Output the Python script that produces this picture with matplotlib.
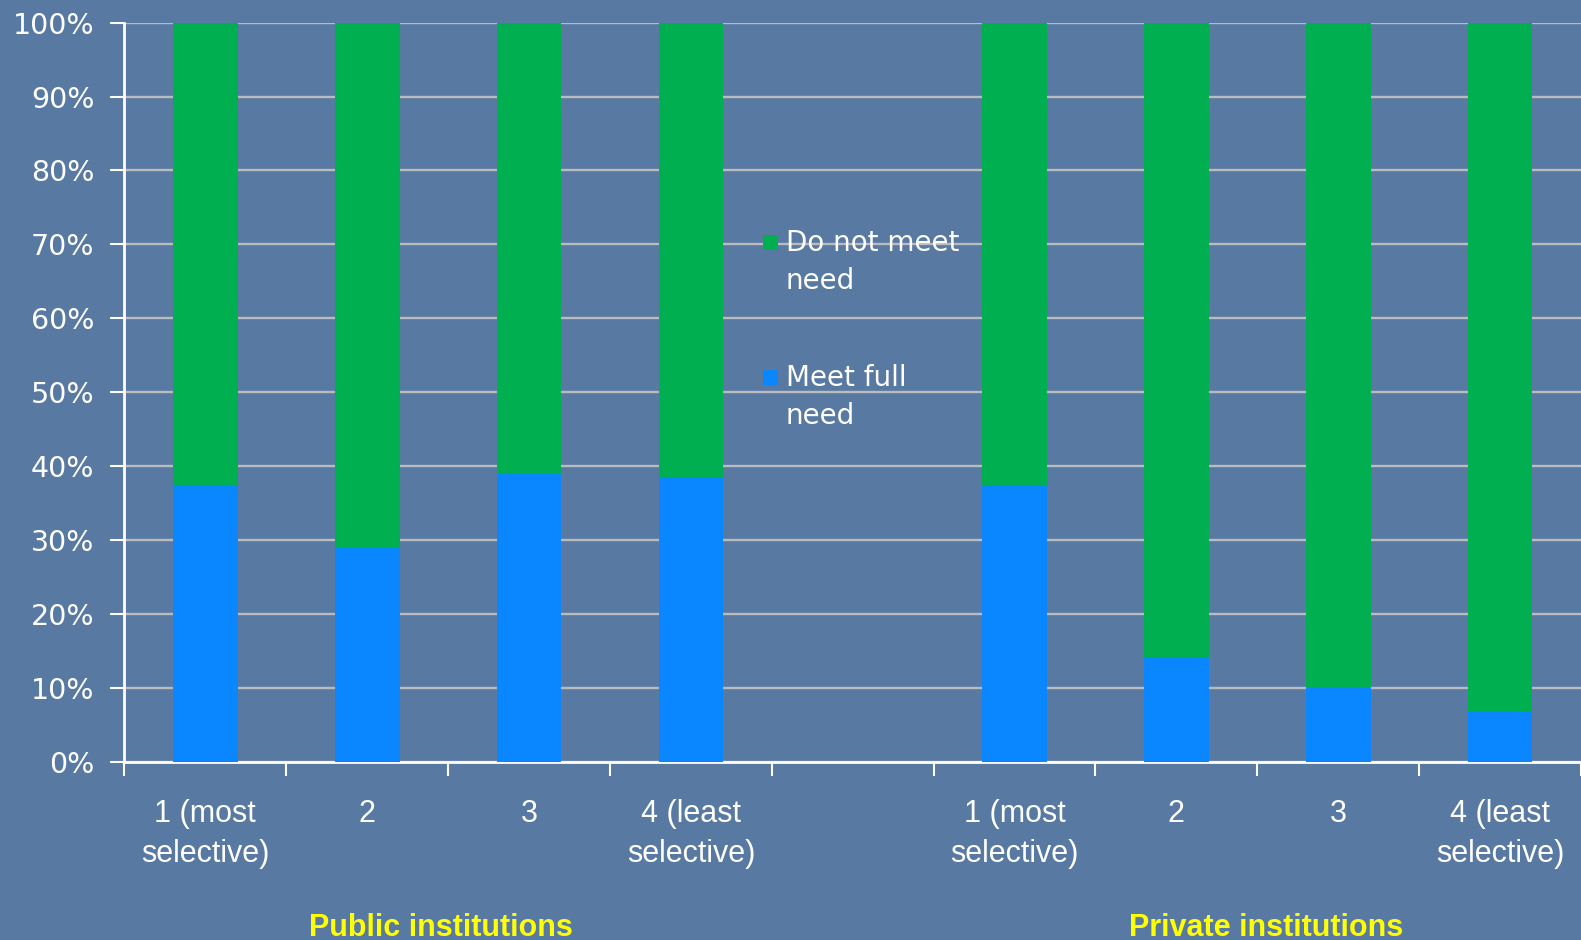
import numpy as np
import matplotlib.pyplot as plt
from matplotlib.patches import Rectangle
from matplotlib.ticker import FuncFormatter

BG = '#5879A2'
GREEN = '#00AF50'
BLUE = '#0A86FF'
GRID = '#B9BBBE'
YELLOW = '#FFFF00'

# nine slots on the category axis: public tiers, a spacer, private tiers
categories = ['1 (most\nselective)', '2', '3', '4 (least\nselective)', '',
              '1 (most\nselective)', '2', '3', '4 (least\nselective)']
meet_full = [37.4, 28.9, 38.9, 38.5, None, 37.3, 14.2, 10.0, 6.8]
groups = ['Public institutions', 'Private institutions']
series_names = ['Do not meet\nneed', 'Meet full\nneed']

LABEL_FONT = 'Liberation Sans'

fig = plt.figure(figsize=(15.81, 9.40), dpi=100)
fig.patch.set_facecolor(BG)
ax = fig.add_axes([0.0787, 0.1897, 0.9213, 0.7862])
ax.set_facecolor(BG)

slots = [i for i, v in enumerate(meet_full) if v is not None]
blue_vals = np.array([meet_full[i] for i in slots])
green_vals = 100 - blue_vals
xpos = np.array(slots) + 0.5

ax.bar(xpos, blue_vals, width=0.4, color=BLUE, zorder=3)
ax.bar(xpos, green_vals, width=0.4, bottom=blue_vals, color=GREEN, zorder=3)

ax.set_xlim(0, 9)
ax.set_ylim(0, 100)
ax.set_yticks(np.arange(0, 101, 10))
ax.yaxis.set_major_formatter(FuncFormatter(lambda v, _: f'{v:.0f}%'))
ax.yaxis.grid(True, color=GRID, linewidth=1.7, zorder=1)

ax.set_xticks(np.arange(0, 10))
ax.set_xticklabels([])
ax.set_xticks(np.arange(9) + 0.5, minor=True)
ax.set_xticklabels(categories, minor=True)
ax.tick_params(axis='x', which='major', direction='out', length=10, width=1.5,
               color='white')
ax.tick_params(axis='x', which='minor', length=0, pad=27, labelcolor='white',
               labelsize=22)
for lbl in ax.get_xticklabels(minor=True):
    lbl.set_family(LABEL_FONT)
    lbl.set_linespacing(1.42)
ax.tick_params(axis='y', direction='out', length=10, width=1.5, color='white',
               labelcolor='white', labelsize=20.5, pad=11.5)

for side in ['top', 'right']:
    ax.spines[side].set_visible(False)
for side in ['left', 'bottom']:
    ax.spines[side].set_color('white')
    ax.spines[side].set_linewidth(2)

# group captions under the tiers
fig.text(441 / 1581, 1 - 928 / 940, groups[0], color=YELLOW, fontsize=22,
         fontweight='bold', family=LABEL_FONT, ha='center', va='center')
fig.text(1266 / 1581, 1 - 928 / 940, groups[1], color=YELLOW, fontsize=22,
         fontweight='bold', family=LABEL_FONT, ha='center', va='center')

# legend: swatch sits beside the first line of each two-line label
W, H = 1581, 940
for name, color, y in [(series_names[0], GREEN, 242), (series_names[1], BLUE, 377)]:
    fig.patches.append(Rectangle((763 / W, 1 - (y + 7.5) / H), 15 / W, 15 / H,
                                 transform=fig.transFigure, facecolor=color,
                                 edgecolor='none', zorder=5))
    fig.text(786 / W, 1 - (y - 13) / H, name, color='white', fontsize=20,
             ha='left', va='top', linespacing=1.45, zorder=5)

fig.savefig('out.png', dpi=100, facecolor=BG)
